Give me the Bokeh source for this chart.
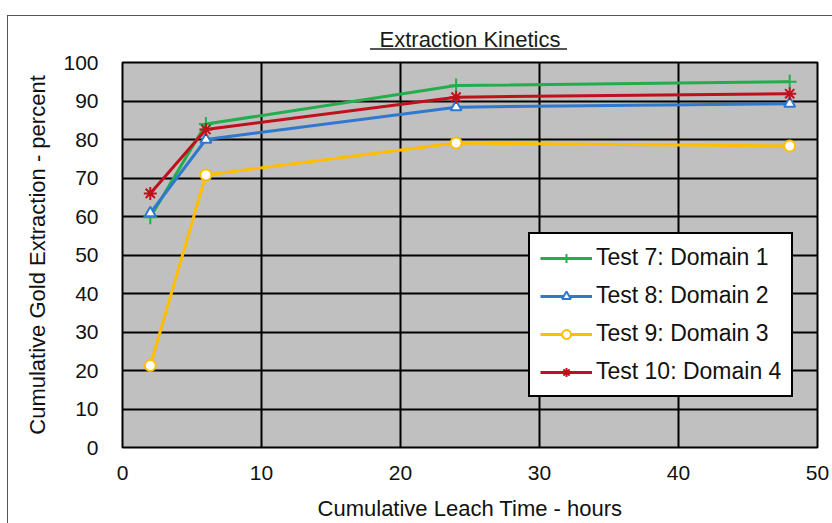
from bokeh.plotting import figure
from bokeh.embed import file_html
from bokeh.resources import INLINE
from bokeh.models import Legend, LegendItem, FixedTicker, Range1d, InlineStyleSheet

hours = [2, 6, 24, 48]
test7 = [59.8, 84.0, 94.0, 95.0]
test8 = [60.9, 80.0, 88.4, 89.3]
test9 = [21.3, 70.8, 79.1, 78.3]
test10 = [66.0, 82.6, 91.0, 91.9]

x_ticks = [0, 10, 20, 30, 40, 50]
y_ticks = [0, 10, 20, 30, 40, 50, 60, 70, 80, 90, 100]

css = InlineStyleSheet(css="""
:host { position: relative; overflow: hidden; }
:host::after { content: ''; position: absolute; left: 7px; top: 15px; right: -10px; bottom: -10px;
  border: 1px solid #555555; pointer-events: none; }
:host::before { content: ''; position: absolute; left: 370px; top: 48px; width: 197px; height: 2px;
  background: #555555; pointer-events: none; z-index: 5; }
""")

p = figure(width=832, height=523, output_backend="svg", toolbar_location=None,
           x_range=Range1d(0, 50), y_range=Range1d(0, 100),
           min_border_left=122, min_border_right=15, min_border_top=62, min_border_bottom=75,
           stylesheets=[css])

p.title.text = "Extraction Kinetics"
p.title.align = "center"
p.title.text_font = "Liberation Sans"
p.title.text_font_size = "22px"
p.title.text_font_style = "normal"
p.title.text_color = "#1a1a1a"
p.title.standoff = 22

p.background_fill_color = "#C0C0C0"
p.border_fill_color = "white"
p.outline_line_color = "black"
p.outline_line_width = 2

for ax in (p.xaxis[0], p.yaxis[0]):
    ax.axis_line_color = None
    ax.major_tick_line_color = None
    ax.minor_tick_line_color = None
    ax.major_label_text_font = "Liberation Sans"
    ax.major_label_text_font_size = "21px"
    ax.major_label_text_color = "#111111"
    ax.axis_label_text_font = "Liberation Sans"
    ax.axis_label_text_font_size = "22px"
    ax.axis_label_text_font_style = "normal"
    ax.axis_label_text_color = "#111111"

p.xaxis.ticker = FixedTicker(ticks=x_ticks)
p.yaxis.ticker = FixedTicker(ticks=y_ticks)
p.xaxis.major_label_standoff = 12
p.yaxis.major_label_standoff = 18
p.xaxis.axis_label = "Cumulative Leach Time - hours"
p.yaxis.axis_label = "Cumulative Gold Extraction - percent"
p.xaxis.axis_label_standoff = 13
p.yaxis.axis_label_standoff = 10

p.xgrid.grid_line_color = "black"
p.ygrid.grid_line_color = "black"
p.xgrid.grid_line_width = 2
p.ygrid.grid_line_width = 2

green = "#22AE4C"
blue = "#2F78CE"
yellow = "#FFBE00"
red = "#C0101C"

l7 = p.line(hours, test7, line_color=green, line_width=3)
m7 = p.scatter(hours, test7, marker="cross", size=14, line_color=green, line_width=2)
l8 = p.line(hours, test8, line_color=blue, line_width=3)
m8 = p.scatter(hours, test8, marker="triangle", size=11, line_color=blue, fill_color="white", line_width=2)
l9 = p.line(hours, test9, line_color=yellow, line_width=3)
m9 = p.scatter(hours, test9, marker="circle", size=11, line_color=yellow, fill_color="white", line_width=2)
l10 = p.line(hours, test10, line_color=red, line_width=3)
m10 = p.scatter(hours, test10, marker="asterisk", size=13, line_color=red, line_width=2)

legend = Legend(items=[
    LegendItem(label="Test 7: Domain 1", renderers=[l7, m7]),
    LegendItem(label="Test 8: Domain 2", renderers=[l8, m8]),
    LegendItem(label="Test 9: Domain 3", renderers=[l9, m9]),
    LegendItem(label="Test 10: Domain 4", renderers=[l10, m10]),
], location=(406, 50))
legend.label_text_font = "Liberation Sans"
legend.label_text_font_size = "23px"
legend.label_text_color = "#111111"
legend.glyph_width = 52
legend.glyph_height = 22
legend.spacing = 11
legend.padding = 10
legend.margin = 0
legend.label_standoff = 4
legend.border_line_color = "black"
legend.border_line_alpha = 1
legend.border_line_width = 2
legend.background_fill_color = "white"
legend.background_fill_alpha = 1
p.add_layout(legend, "center")

open("out.html", "w").write(file_html(p, INLINE))
